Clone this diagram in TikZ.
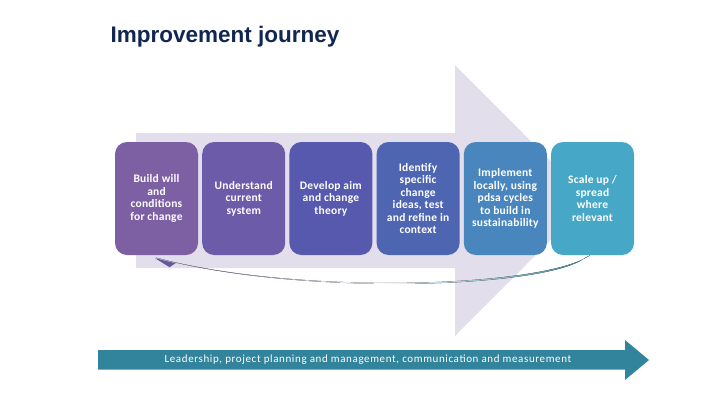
\documentclass[tikz,border=0pt]{standalone}
\usepackage{fontspec}
\usetikzlibrary{calc}
\newfontfamily\titlefont{Liberation Sans}
\newfontfamily\boxfont[LetterSpace=2]{Carlito}
\newfontfamily\barfont[LetterSpace=5.6]{Carlito}
\definecolor{lav}{RGB}{226,222,236}
\definecolor{titlec}{RGB}{17,38,80}
\definecolor{cA}{RGB}{125,96,163}
\definecolor{cB}{RGB}{107,91,168}
\definecolor{cC}{RGB}{86,89,173}
\definecolor{cD}{RGB}{78,101,178}
\definecolor{cE}{RGB}{73,134,190}
\definecolor{cF}{RGB}{70,168,198}
\definecolor{barc}{RGB}{49,132,155}
\definecolor{swl}{RGB}{100,88,155}
\definecolor{swr}{RGB}{58,128,150}
\tikzset{
  stagebox/.style={rounded corners=12pt, minimum width=83pt, minimum height=113pt,
    inner sep=0pt, text=white, align=center,
    font=\boxfont\bfseries\fontsize{11.5}{12.5}\selectfont},
  titletext/.style={anchor=base west, inner sep=0pt, text=titlec,
    font=\titlefont\bfseries\fontsize{22.5}{26}\selectfont},
  bartext/.style={inner sep=0pt, text=white, font=\barfont\fontsize{11}{13}\selectfont}
}
\begin{document}
\begin{tikzpicture}[x=1pt,y=-1pt]
\useasboundingbox (0,0) rectangle (720,405);
% big background arrow
\fill[lav] (136,133) -- (455,133) -- (455,65) -- (590,200.5) -- (455,336) -- (455,268) -- (136,268) -- cycle;
% title
\node[titletext] (title) at (110.5,42) {Improvement journey};
% stage boxes
\node[stagebox, fill=cA] (b1) at (156.5,198.5) {Build will\\and\\conditions\\for change};
\node[stagebox, fill=cB] (b2) at (243.7,198.5) {Understand\\current\\system};
\node[stagebox, fill=cC] (b3) at (330.9,198.5) {Develop aim\\and change\\theory};
\node[stagebox, fill=cD] (b4) at (418.1,198.5) {Identify\\specific\\change\\ideas, test\\and refine in\\context};
\node[stagebox, fill=cE] (b5) at (505.3,198.5) {Implement\\locally, using\\pdsa cycles\\to build in\\sustainability};
\node[stagebox, fill=cF] (b6) at (592.5,198.5) {Scale up /\\spread\\where\\relevant};
% swoosh from b6 back to b1
\fill[left color=swl, right color=swr, middle color=white]
  ($(b6.south)+(-2.5,0)$) .. controls +(-45,32) and +(144,38) .. ($(b1.south)+(-0.5,2.5)$)
  .. controls +(144,39) and +(-40,30) .. ($(b6.south)+(-8,3)$) -- cycle;
\fill[swl] ($(b1.south)+(-1.5,3)$) -- ($(b1.south)+(19,8)$) -- ($(b1.south)+(13,12)$) -- cycle;
% bottom bar arrow
\fill[barc] (98,350) -- (625,350) -- (625,340) -- (649,360) -- (625,380) -- (625,369.5) -- (98,369.5) -- cycle;
\node[bartext] (lead) at (368,360) {Leadership, project planning and management, communication and measurement};
\end{tikzpicture}
\end{document}
